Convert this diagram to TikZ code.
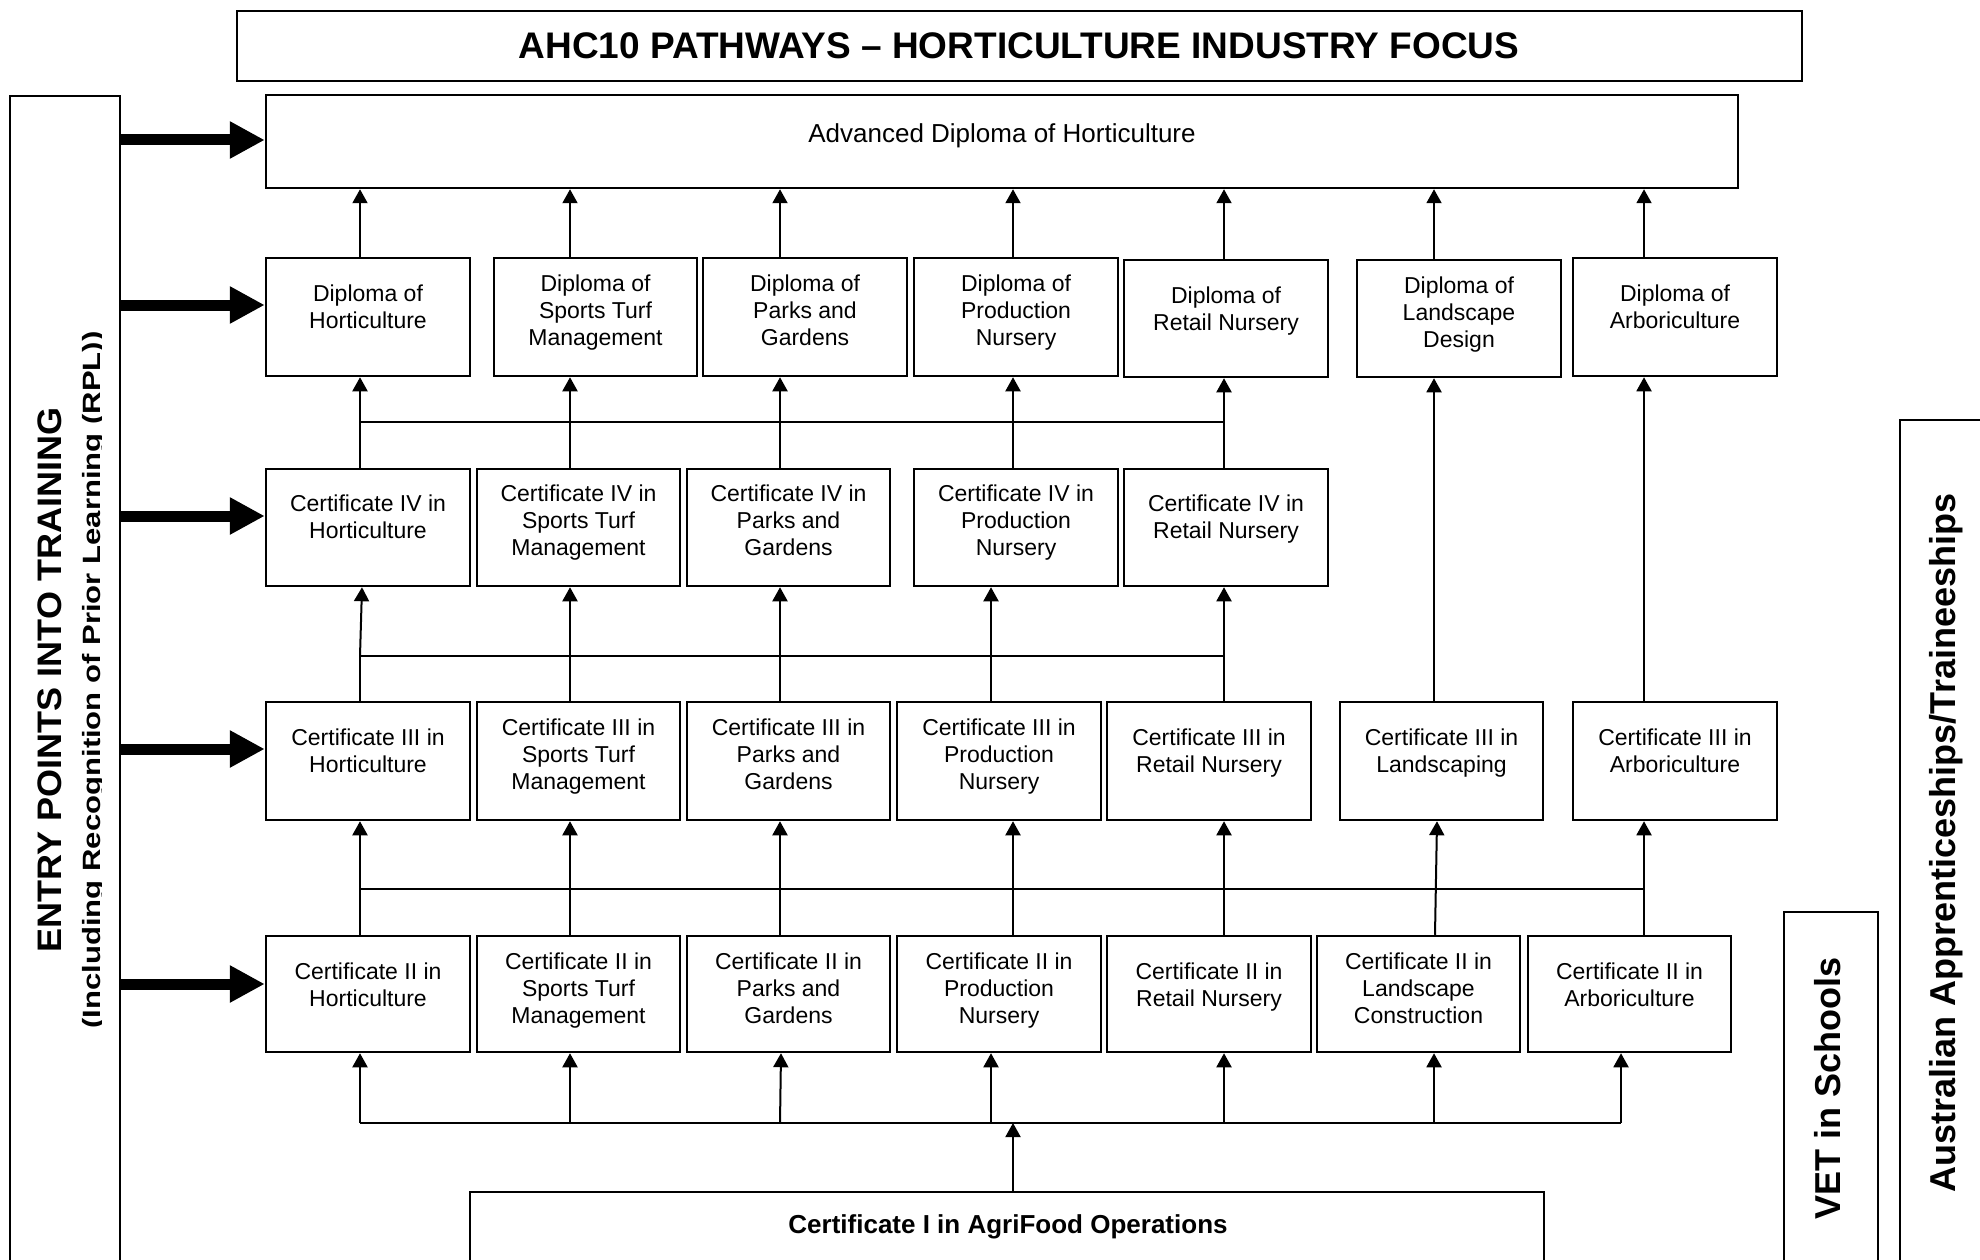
\documentclass[tikz,border=0pt]{standalone}
\usepackage{fontspec}
\setmainfont{Liberation Sans}
\usetikzlibrary{arrows.meta,fit}
\newcommand\qbox[7]{%
  \node[box, fit={(#2,#3) (#4,#5)}] (#1) {};
  \node[txt] (#1t) at ([yshift=-#6pt]#1.north) {#7};}
\begin{document}
\begin{tikzpicture}[x=1pt,y=-1pt,
  box/.style={draw, line width=2.5pt, inner sep=0pt},
  txt/.style={align=center, inner sep=0pt, anchor=north, font=\fontsize{23}{27}\selectfont},
  conn/.style={line width=2pt},
  arr/.style={line width=2pt, -{Triangle[length=14pt,width=15pt]}},
  big/.style={line width=11pt, -{Triangle[length=35pt,width=35pt]}},
  sidetxt/.style={font=\bfseries\fontsize{36}{40}\selectfont, rotate=90, anchor=base, inner sep=0pt}
]
\useasboundingbox (0,0) rectangle (1980,1260);
\fill[white] (0,0) rectangle (1980,1260);
\begin{scope}
\clip (0,0) rectangle (1980,1260);

% title and top box
\node[box, fit={(237,11) (1802,81)}] (title) {};
\node[font=\bfseries\fontsize{37}{41}\selectfont, inner sep=0pt] (titlet) at (1019,46) {AHC10 PATHWAYS – HORTICULTURE INDUSTRY FOCUS};
\node[box, fit={(266,95) (1738,188)}] (adv) {};
\node[font=\fontsize{26}{30}\selectfont, anchor=base, inner sep=0pt] (advt) at (1002,143) {Advanced Diploma of Horticulture};

% side boxes
\node[box, fit={(10,96) (120,1290)}] (lbar) {};
\node[font=\bfseries\fontsize{34}{38}\selectfont, rotate=90, anchor=base, inner sep=0pt] (entry) at (61,680) {\scalebox{1.06}[1]{ENTRY POINTS INTO TRAINING}};
\begin{scope}
\clip (0,96) rectangle (101.5,1260);
\node[font=\bfseries\fontsize{25}{29}\selectfont, rotate=90, anchor=base, inner sep=0pt] (rpl) at (100,680) {\scalebox{1.242}[1]{(Including Recognition of Prior Learning (RPL))}};
\end{scope}
\node[box, fit={(1784,912) (1878,1290)}] (vet) {};
\node[sidetxt] (vett) at (1840,1088) {VET in Schools};
\node[box, fit={(1900,420) (2010,1290)}] (aat) {};
\node[sidetxt] (aatt) at (1955,843) {Australian Apprenticeships/Traineeships};

% Diplomas
\qbox{d1}{266}{258}{470}{376}{27.5}{Diploma of\\Horticulture}
\qbox{d2}{494}{258}{697}{376}{17.5}{Diploma of\\Sports Turf\\Management}
\qbox{d3}{703}{258}{907}{376}{17.5}{Diploma of\\Parks and\\Gardens}
\qbox{d4}{914}{258}{1118}{376}{17.5}{Diploma of\\Production\\Nursery}
\qbox{d5}{1124}{260}{1328}{377}{27.5}{Diploma of\\Retail Nursery}
\qbox{d6}{1357}{260}{1561}{377}{17.5}{Diploma of\\Landscape\\Design}
\qbox{d7}{1573}{258}{1777}{376}{27.5}{Diploma of\\Arboriculture}

% Certificate IV
\qbox{iv1}{266}{469}{470}{586}{27}{Certificate IV in\\Horticulture}
\qbox{iv2}{477}{469}{680}{586}{17}{Certificate IV in\\Sports Turf\\Management}
\qbox{iv3}{687}{469}{890}{586}{17}{Certificate IV in\\Parks and\\Gardens}
\qbox{iv4}{914}{469}{1118}{586}{17}{Certificate IV in\\Production\\Nursery}
\qbox{iv5}{1124}{469}{1328}{586}{27}{Certificate IV in\\Retail Nursery}

% Certificate III
\qbox{iii1}{266}{702}{470}{820}{27.5}{Certificate III in\\Horticulture}
\qbox{iii2}{477}{702}{680}{820}{17.5}{Certificate III in\\Sports Turf\\Management}
\qbox{iii3}{687}{702}{890}{820}{17.5}{Certificate III in\\Parks and\\Gardens}
\qbox{iii4}{897}{702}{1101}{820}{17.5}{Certificate III in\\Production\\Nursery}
\qbox{iii5}{1107}{702}{1311}{820}{27.5}{Certificate III in\\Retail Nursery}
\qbox{iii6}{1340}{702}{1543}{820}{27.5}{Certificate III in\\Landscaping}
\qbox{iii7}{1573}{702}{1777}{820}{27.5}{Certificate III in\\Arboriculture}

% Certificate II
\qbox{ii1}{266}{936}{470}{1052}{27.5}{Certificate II in\\Horticulture}
\qbox{ii2}{477}{936}{680}{1052}{17.5}{Certificate II in\\Sports Turf\\Management}
\qbox{ii3}{687}{936}{890}{1052}{17.5}{Certificate II in\\Parks and\\Gardens}
\qbox{ii4}{897}{936}{1101}{1052}{17.5}{Certificate II in\\Production\\Nursery}
\qbox{ii5}{1107}{936}{1311}{1052}{27.5}{Certificate II in\\Retail Nursery}
\qbox{ii6}{1317}{936}{1520}{1052}{17.5}{Certificate II in\\Landscape\\Construction}
\qbox{ii7}{1528}{936}{1731}{1052}{27.5}{Certificate II in\\Arboriculture}

% Certificate I
\node[box, fit={(470,1192) (1544,1290)}] (c1box) {};
\node[font=\bfseries\fontsize{26}{30}\selectfont, anchor=base, inner sep=0pt] (c1t) at (1008,1233) {Certificate I in AgriFood Operations};

% column and bus coordinates
\coordinate (c1) at (360,0);
\coordinate (c2) at (570,0);
\coordinate (c3) at (780,0);
\coordinate (c4) at (1013,0);
\coordinate (c4b) at (991,0);
\coordinate (c5) at (1224,0);
\coordinate (c6) at (1434,0);
\coordinate (c7) at (1644,0);
\coordinate (c7b) at (1621,0);
\coordinate (busA) at (0,422);
\coordinate (busB) at (0,656);
\coordinate (busC) at (0,889);
\coordinate (busD) at (0,1123);

% thick entry arrows
\coordinate (r1) at (0,140);
\coordinate (r2) at (0,305);
\coordinate (r3) at (0,516);
\coordinate (r4) at (0,749);
\coordinate (r5) at (0,984);
\draw[big] (lbar.east |- r1) -- (adv.west |- r1);
\draw[big] (lbar.east |- r2) -- (d1.west |- r2);
\draw[big] (lbar.east |- r3) -- (iv1.west |- r3);
\draw[big] (lbar.east |- r4) -- (iii1.west |- r4);
\draw[big] (lbar.east |- r5) -- (ii1.west |- r5);

% Diplomas -> Advanced
\draw[arr] (d1.north -| c1) -- (adv.south -| c1);
\draw[arr] (d2.north -| c2) -- (adv.south -| c2);
\draw[arr] (d3.north -| c3) -- (adv.south -| c3);
\draw[arr] (d4.north -| c4) -- (adv.south -| c4);
\draw[arr] (d5.north -| c5) -- (adv.south -| c5);
\draw[arr] (d6.north -| c6) -- (adv.south -| c6);
\draw[arr] (d7.north -| c7) -- (adv.south -| c7);

% Cert IV -> Diplomas
\draw[conn] (c1 |- busA) -- (c5 |- busA);
\draw[arr] (iv1.north -| c1) -- (d1.south -| c1);
\draw[arr] (iv2.north -| c2) -- (d2.south -| c2);
\draw[arr] (iv3.north -| c3) -- (d3.south -| c3);
\draw[arr] (iv4.north -| c4) -- (d4.south -| c4);
\draw[arr] (iv5.north -| c5) -- (d5.south -| c5);

% Cert III -> Cert IV
\draw[conn] (c1 |- busB) -- (c5 |- busB);
\draw[conn] (iii1.north -| c1) -- (c1 |- busB);
\draw[arr] (c1 |- busB) -- ([xshift=2pt]iv1.south -| c1);
\draw[arr] (iii2.north -| c2) -- (iv2.south -| c2);
\draw[arr] (iii3.north -| c3) -- (iv3.south -| c3);
\draw[arr] (iii4.north -| c4b) -- (iv4.south -| c4b);
\draw[arr] (iii5.north -| c5) -- (iv5.south -| c5);
\draw[arr] (iii6.north -| c6) -- (d6.south -| c6);
\draw[arr] (iii7.north -| c7) -- (d7.south -| c7);

% Cert II -> Cert III
\draw[conn] (c1 |- busC) -- (c7 |- busC);
\draw[arr] (ii1.north -| c1) -- (iii1.south -| c1);
\draw[arr] (ii2.north -| c2) -- (iii2.south -| c2);
\draw[arr] (ii3.north -| c3) -- (iii3.south -| c3);
\draw[arr] (ii4.north -| c4) -- (iii4.south -| c4);
\draw[arr] (ii5.north -| c5) -- (iii5.south -| c5);
\draw[arr] ([xshift=1pt]ii6.north -| c6) -- ([xshift=3pt]iii6.south -| c6);
\draw[arr] (ii7.north -| c7) -- (iii7.south -| c7);

% Cert I -> Cert II
\draw[conn] (c1 |- busD) -- (c7b |- busD);
\draw[arr] (c1box.north -| c4) -- (c4 |- busD);
\draw[arr] (c1 |- busD) -- (ii1.south -| c1);
\draw[arr] (c2 |- busD) -- (ii2.south -| c2);
\draw[arr] (c3 |- busD) -- ([xshift=1pt]ii3.south -| c3);
\draw[arr] (c4b |- busD) -- (ii4.south -| c4b);
\draw[arr] (c5 |- busD) -- (ii5.south -| c5);
\draw[arr] (c6 |- busD) -- (ii6.south -| c6);
\draw[arr] (c7b |- busD) -- (ii7.south -| c7b);
\end{scope}
\end{tikzpicture}
\end{document}
